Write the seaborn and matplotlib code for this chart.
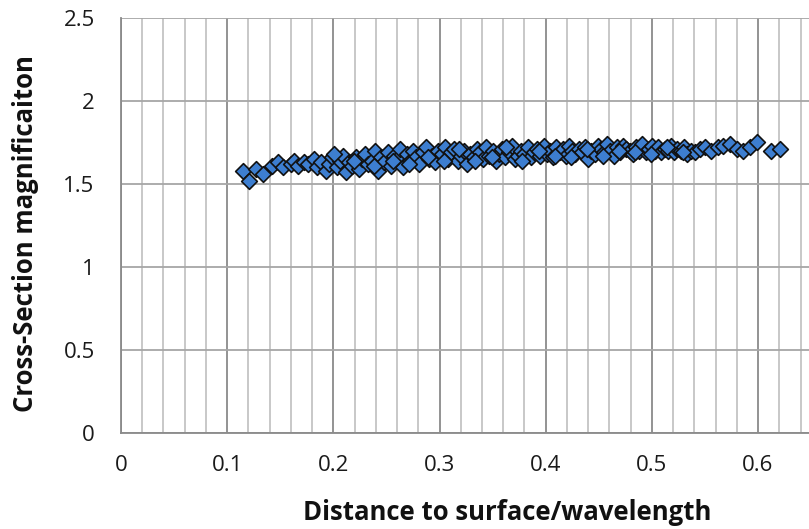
import numpy as np
import pandas as pd
import matplotlib
matplotlib.use("Agg")
import matplotlib.pyplot as plt
from matplotlib.ticker import MultipleLocator
import seaborn as sns

# Normalised distance to the surface and the matching cross-section magnification
distance = [
    0.115, 0.121, 0.127, 0.134, 0.142, 0.148, 0.153, 0.160, 0.163, 0.167,
    0.172, 0.176, 0.182, 0.185, 0.188, 0.193, 0.196, 0.199, 0.203, 0.206,
    0.209, 0.212, 0.215, 0.218, 0.221, 0.224, 0.227, 0.230, 0.233, 0.236,
    0.239, 0.242, 0.245, 0.248, 0.251, 0.254, 0.257, 0.260, 0.263, 0.266,
    0.269, 0.272, 0.275, 0.278, 0.281, 0.284, 0.287, 0.290, 0.293, 0.296,
    0.299, 0.302, 0.305, 0.308, 0.311, 0.314, 0.317, 0.320, 0.323, 0.326,
    0.329, 0.332, 0.335, 0.338, 0.341, 0.344, 0.347, 0.350, 0.353, 0.356,
    0.359, 0.362, 0.365, 0.368, 0.371, 0.374, 0.377, 0.380, 0.383, 0.386,
    0.389, 0.392, 0.395, 0.398, 0.401, 0.404, 0.407, 0.410, 0.413, 0.416,
    0.419, 0.422, 0.425, 0.428, 0.431, 0.434, 0.437, 0.440, 0.443, 0.446,
    0.449, 0.452, 0.455, 0.458, 0.461, 0.464, 0.467, 0.470, 0.473, 0.476,
    0.479, 0.482, 0.485, 0.488, 0.491, 0.494, 0.497, 0.500, 0.503, 0.506,
    0.509, 0.512, 0.515, 0.518, 0.521, 0.524, 0.527, 0.530, 0.533, 0.537,
    0.541, 0.545, 0.550, 0.556, 0.562, 0.567, 0.574, 0.580, 0.586, 0.592,
    0.599, 0.612, 0.621,
    0.201, 0.219, 0.238, 0.256, 0.271, 0.289, 0.304, 0.318, 0.333, 0.349,
    0.363, 0.378, 0.394, 0.409, 0.424, 0.439, 0.454, 0.469, 0.484, 0.499,
    0.514, 0.529,
]
magnification = [
    1.58, 1.52, 1.59, 1.56, 1.61, 1.63, 1.60, 1.62, 1.64, 1.61,
    1.63, 1.62, 1.65, 1.60, 1.63, 1.58, 1.62, 1.66, 1.60, 1.64,
    1.67, 1.57, 1.63, 1.61, 1.66, 1.59, 1.65, 1.68, 1.62, 1.64,
    1.70, 1.58, 1.66, 1.63, 1.69, 1.61, 1.67, 1.65, 1.71, 1.60,
    1.68, 1.64, 1.70, 1.66, 1.62, 1.69, 1.72, 1.65, 1.67, 1.63,
    1.70, 1.68, 1.72, 1.65, 1.69, 1.71, 1.64, 1.67, 1.70, 1.62,
    1.68, 1.66, 1.71, 1.69, 1.65, 1.72, 1.67, 1.70, 1.64, 1.68,
    1.71, 1.66, 1.69, 1.73, 1.65, 1.67, 1.70, 1.68, 1.72, 1.66,
    1.69, 1.71, 1.67, 1.73, 1.68, 1.70, 1.66, 1.72, 1.69, 1.71,
    1.67, 1.73, 1.70, 1.68, 1.71, 1.69, 1.72, 1.65, 1.70, 1.68,
    1.73, 1.71, 1.69, 1.74, 1.70, 1.67, 1.72, 1.69, 1.73, 1.71,
    1.70, 1.68, 1.72, 1.70, 1.74, 1.69, 1.71, 1.73, 1.70, 1.72,
    1.69, 1.71, 1.70, 1.73, 1.69, 1.71, 1.70, 1.72, 1.68, 1.70,
    1.69, 1.71, 1.72, 1.70, 1.72, 1.73, 1.74, 1.71, 1.70, 1.72,
    1.75, 1.70, 1.71,
    1.68, 1.64, 1.61, 1.64, 1.62, 1.66, 1.64, 1.71, 1.64, 1.66,
    1.72, 1.64, 1.70, 1.67, 1.66, 1.71, 1.67, 1.70, 1.69, 1.68,
    1.72, 1.69,
]

x_ticks = [0, 0.1, 0.2, 0.3, 0.4, 0.5, 0.6]
x_tick_labels = ["0", "0.1", "0.2", "0.3", "0.4", "0.5", "0.6"]
y_ticks = [0, 0.5, 1, 1.5, 2, 2.5]
y_tick_labels = ["0", "0.5", "1", "1.5", "2", "2.5"]

df = pd.DataFrame({"distance": distance, "magnification": magnification})

sns.set_style("white")
plt.rcParams["font.family"] = ["Open Sans", "DejaVu Sans"]

fig = plt.figure(figsize=(8.09, 5.29), dpi=100)
ax = fig.add_axes([0.1496, 0.1815, 0.8504, 0.7845])

sns.scatterplot(
    data=df, x="distance", y="magnification", ax=ax,
    marker="D", s=64, color="#3D7ED0", edgecolor="#111111",
    linewidth=1.2, zorder=3, legend=False,
)

ax.set_xlim(0, 0.648)
ax.set_ylim(0, 2.5)

# major and minor vertical grid, horizontal major grid
ax.xaxis.set_minor_locator(MultipleLocator(0.02))
ax.set_xticks(x_ticks)
ax.set_xticklabels(x_tick_labels)
ax.set_yticks(y_ticks)
ax.set_yticklabels(y_tick_labels)
ax.grid(True, which="major", axis="x", color="#8a8a8a", linewidth=1.3, zorder=0)
ax.grid(True, which="minor", axis="x", color="#c4c4c4", linewidth=1.3, zorder=0)
ax.grid(True, which="major", axis="y", color="#a6a6a6", linewidth=1.3, zorder=0)
ax.set_axisbelow(True)

for side in ("top", "right"):
    ax.spines[side].set_visible(False)
for side in ("left", "bottom"):
    ax.spines[side].set_color("#8a8a8a")
    ax.spines[side].set_linewidth(1.3)

ax.tick_params(axis="both", which="major", direction="out", length=6,
               width=1.3, color="#8a8a8a", labelsize=16, labelcolor="#1a1a1a")
ax.tick_params(axis="x", which="minor", length=0)
ax.tick_params(axis="x", which="major", pad=10)
ax.tick_params(axis="y", which="major", pad=13)

ax.set_xlabel("Distance to surface/wavelength", fontsize=18.5,
              fontweight="bold", color="#111111")
ax.set_ylabel("Cross-Section magnificaiton", fontsize=18.5,
              fontweight="bold", color="#111111")
ax.xaxis.set_label_coords(0.561, -0.158)
ax.yaxis.set_label_coords(-0.119, 0.48)

fig.savefig("out.png", dpi=100)
